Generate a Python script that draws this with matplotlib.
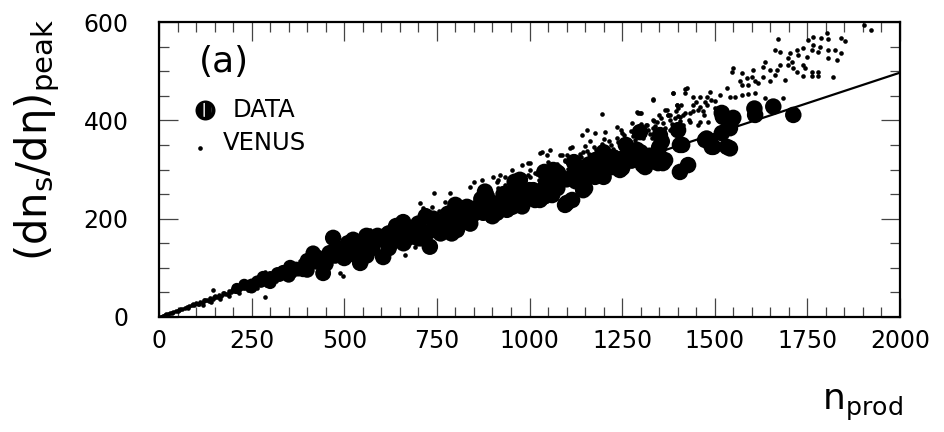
import matplotlib
matplotlib.use("Agg")
import matplotlib.pyplot as plt
from matplotlib.ticker import MultipleLocator

# ---------------- data ----------------
data_xy = [
    (210, 58), (230, 66), (250, 66), (265, 72), (281, 81), (300, 80), (320, 88), (335, 92),
    (354, 102), (370, 98), (389, 96), (400, 115), (416, 130), (426, 122), (443, 110), (443, 89),
    (460, 130), (470, 161), (480, 140), (500, 120), (510, 150), (524, 157), (543, 110), (561, 136),
    (575, 150), (590, 165), (605, 122), (620, 170), (640, 160), (659, 193), (660, 150), (680, 175),
    (700, 190), (710, 160), (731, 143), (740, 200), (760, 185), (780, 210), (790, 170), (804, 177),
    (804, 220), (820, 195), (831, 224), (850, 210), (870, 240), (874, 238), (890, 225), (902, 212),
    (912, 212), (930, 250), (939, 218), (953, 224), (960, 260), (974, 279), (990, 250), (1010, 258),
    (1015, 238), (1028, 252), (1028, 238), (1045, 270), (1061, 248), (1064, 299), (1077, 293),
    (1082, 285), (1096, 228), (1101, 232), (1115, 238), (1117, 285), (1130, 300), (1145, 258),
    (1150, 262), (1160, 310), (1177, 285), (1177, 319), (1205, 303), (1226, 325), (1244, 299),
    (1250, 303), (1270, 330), (1290, 340), (1298, 376), (1306, 309), (1312, 305), (1347, 313),
    (1352, 370), (1357, 357), (1360, 313), (1366, 319), (1401, 380), (1406, 350), (1406, 295),
    (1412, 350), (1428, 309), (1474, 360), (1478, 363), (1487, 356), (1492, 346), (1496, 346),
    (1519, 374), (1519, 415), (1522, 407), (1533, 346), (1541, 343), (1541, 384), (1546, 401),
    (1550, 405), (1607, 424), (1609, 411), (1658, 428), (1712, 411),
    # points hidden inside the solid band
    (250, 60), (275, 72), (300, 70), (325, 85), (350, 84), (375, 97), (400, 95), (425, 112),
    (450, 108), (475, 125), (500, 130), (525, 128), (550, 145), (575, 140), (600, 158), (625, 150),
    (650, 170), (675, 162), (700, 180), (725, 172), (750, 195), (775, 188), (800, 205), (825, 200),
    (850, 220), (875, 212), (900, 232), (925, 226), (950, 245), (975, 238), (1000, 258),
    (1025, 252), (1050, 270), (1075, 262), (1100, 280), (1125, 276), (1150, 292), (1175, 300),
    (1200, 310), (1225, 305), (1250, 322), (1275, 318), (1300, 335), (1325, 328), (1350, 345),
    (560, 125), (620, 140), (700, 160), (760, 170), (840, 190), (900, 205), (980, 225),
    (1040, 245), (1200, 285), (560, 165), (640, 185), (720, 205), (800, 228), (880, 255),
    (960, 275), (1040, 295), (1120, 315), (1200, 335), (1260, 350),
]

venus_xy = [
    # low-multiplicity band
    (5, 1), (12, 3), (18, 6), (25, 6), (30, 9), (38, 10), (45, 13), (50, 12), (58, 16), (62, 17),
    (70, 18), (75, 21), (82, 22), (88, 25), (95, 24), (100, 28), (105, 27), (112, 31), (118, 30),
    (125, 35), (130, 34), (138, 38), (145, 37), (150, 42), (155, 40), (162, 45), (168, 43),
    (175, 49), (180, 46), (188, 52), (195, 50), (200, 56), (205, 53), (212, 59), (218, 57),
    (225, 62), (230, 60), (238, 67), (245, 63), (250, 70), (258, 66), (265, 74), (270, 70),
    (278, 78), (285, 73), (290, 82), (298, 78), (305, 86), (310, 80), (318, 90), (325, 84),
    (330, 93), (338, 88), (345, 97), (350, 91), (358, 101), (365, 95), (372, 105), (380, 98),
    (388, 109), (395, 102), (400, 113),
    (15, 5), (35, 8), (55, 15), (78, 19), (92, 27), (108, 26), (122, 34), (135, 33), (148, 40),
    (160, 41), (172, 48), (185, 47), (198, 54), (208, 52), (222, 61), (235, 58), (248, 68),
    (260, 65), (275, 76), (282, 71), (295, 83), (302, 77), (315, 88), (322, 83), (335, 95),
    (342, 86), (355, 99), (362, 93), (375, 107), (385, 100), (398, 110),
    (120, 24), (140, 31), (165, 36), (190, 42), (215, 49), (240, 55), (265, 60), (290, 66),
    (315, 73), (340, 79), (365, 86), (390, 92),
    # core of the band
    (410, 118), (420, 105), (430, 125), (440, 112), (450, 128), (460, 118), (475, 140), (485, 125),
    (495, 145), (505, 132), (515, 150), (525, 138), (535, 155), (545, 142), (555, 160), (565, 148),
    (575, 165), (585, 152), (595, 170), (605, 158), (615, 175), (625, 162), (635, 180), (645, 168),
    (655, 185), (665, 172), (675, 192), (685, 178), (695, 198), (705, 185), (715, 202), (725, 190),
    (735, 208), (745, 195), (755, 215), (765, 200), (775, 220), (785, 206), (795, 225), (805, 212),
    (815, 230), (825, 218), (835, 236), (845, 222), (855, 242), (865, 228), (875, 248), (885, 235),
    (895, 255), (905, 240), (915, 262), (925, 248), (935, 268), (945, 252), (955, 275), (965, 258),
    (975, 280), (985, 265), (995, 288), (1005, 270), (1015, 292), (1025, 278), (1035, 300),
    (1045, 285), (1055, 305), (1065, 290), (1075, 312), (1085, 296), (1095, 318), (1105, 302),
    (1115, 325), (1125, 308), (1135, 332), (1145, 315), (1155, 338), (1165, 322), (1175, 345),
    (1185, 330), (1195, 352), (1205, 336), (1215, 358), (1225, 342), (1235, 365), (1245, 348),
    (1255, 370), (1265, 355), (1275, 378), (1285, 360), (1295, 385), (1305, 365), (1315, 390),
    (1325, 372), (1335, 398), (1345, 378), (1355, 405), (1365, 385), (1375, 410), (1385, 392),
    (1395, 418), (1405, 398),
    (900, 250), (920, 258), (940, 262), (960, 270), (980, 278), (1000, 285), (1020, 290),
    (1040, 296), (1060, 302), (1080, 308), (1100, 315), (1120, 320), (1140, 326), (1160, 332),
    (1180, 340), (1200, 345), (1220, 350), (1240, 356), (1260, 362), (1280, 368), (1300, 375),
    (1320, 380), (1340, 388), (1360, 395), (1380, 400), (1400, 408), (1420, 415), (1440, 420),
    (1460, 428), (1480, 432), (1500, 440),
    (950, 282), (1000, 300), (1050, 315), (1100, 330), (1150, 348), (1200, 362), (1250, 375),
    (1300, 392), (1350, 410), (1400, 425), (1450, 438), (1500, 425), (1470, 410), (1430, 400),
    (1380, 380), (1330, 365), (1280, 350), (1230, 335), (1180, 322), (1130, 305),
    # scattered points around the band
    (1388, 455), (1334, 443), (1420, 463), (1195, 412), (1289, 416), (1302, 414), (1366, 421),
    (1375, 411), (1406, 407), (1397, 431), (1334, 401), (1276, 394), (1235, 387), (1248, 380),
    (1154, 380), (1177, 374), (1204, 377), (1141, 370), (1163, 357), (1109, 343), (1055, 340),
    (1028, 333), (1082, 330), (1096, 319), (1001, 313), (979, 309), (952, 299), (920, 289),
    (902, 285), (871, 279), (884, 265), (916, 279), (934, 285), (965, 289), (1042, 299), (997, 313),
    (849, 275), (839, 265), (911, 275), (741, 252), (785, 252), (772, 233), (704, 231), (713, 221),
    (736, 224), (700, 201), (569, 177), (583, 173), (606, 180), (623, 177), (889, 197), (691, 143),
    (664, 126), (489, 89), (497, 83), (606, 157), (147, 55), (286, 92), (300, 89), (286, 41),
    (232, 72), (205, 62), (381, 113), (403, 119), (1046, 330), (1087, 330), (1114, 346),
    (1145, 336), (1033, 336), (1293, 414),
    # upper region
    (1903, 593), (1923, 584), (1672, 565), (1752, 563), (1764, 570), (1788, 567), (1804, 577),
    (1807, 565), (1841, 567), (1852, 561), (1739, 548), (1766, 553), (1784, 550), (1763, 543),
    (1663, 543), (1676, 540), (1703, 536), (1721, 543), (1725, 533), (1748, 529), (1780, 540),
    (1807, 543), (1825, 543), (1842, 536), (1807, 527), (1829, 523), (1699, 526), (1708, 519),
    (1676, 513), (1667, 502), (1698, 513), (1712, 506), (1721, 499), (1739, 513), (1744, 506),
    (1762, 499), (1780, 499), (1739, 491), (1762, 491), (1778, 491), (1820, 489), (1636, 519),
    (1631, 509), (1649, 502), (1663, 492), (1690, 482), (1649, 479), (1631, 489), (1604, 502),
    (1600, 489), (1609, 479), (1618, 475), (1586, 486), (1573, 496), (1546, 499), (1550, 506),
    (1568, 479), (1573, 472), (1591, 472), (1532, 465), (1573, 452), (1591, 453), (1609, 455),
    (1636, 445), (1685, 445), (1514, 452), (1541, 448), (1555, 448), (1487, 458), (1478, 448),
    (1491, 441), (1474, 438), (1460, 448), (1442, 448), (1424, 465), (1420, 455), (1388, 455),
    (1334, 441), (1397, 431), (1410, 431), (1442, 431), (1456, 421), (1469, 418), (1433, 414),
    (1415, 411), (1370, 421), (1379, 411), (1393, 404), (1433, 397), (1460, 397), (1483, 397),
    (1505, 404), (1415, 391), (1456, 391), (1343, 397), (1334, 384), (1316, 391), (1298, 414),
]

line_x = [0, 2000]
line_y = [0, 497]

x_ticks = [0, 250, 500, 750, 1000, 1250, 1500, 1750, 2000]
y_ticks = [0, 200, 400, 600]

# ---------------- figure ----------------
plt.rcParams['font.family'] = ['DejaVu Sans']
plt.rcParams['mathtext.fontset'] = 'dejavusans'

fig = plt.figure(figsize=(9.45, 4.32), dpi=100)
ax = fig.add_axes([159 / 945, 1 - 317 / 432, 741 / 945, 295 / 432])

dx = [p[0] for p in data_xy]
dy = [p[1] for p in data_xy]
vx = [p[0] for p in venus_xy]
vy = [p[1] for p in venus_xy]

# marker size of data points grows a little at low multiplicity (style)
dsize = []
for x in dx:
    d_px = min(16.5, 7.0 + x * 0.02)
    dsize.append((d_px * 72 / 100) ** 2)

ax.scatter(vx, vy, s=11, c='black', linewidths=0, zorder=3)
ax.scatter(dx, dy, s=dsize, c='black', linewidths=0, zorder=2)
ax.plot(line_x, line_y, color='black', lw=1.6, zorder=1)

ax.set_xlim(0, 2000)
ax.set_ylim(0, 600)
ax.set_xticks(x_ticks)
ax.set_yticks(y_ticks)
ax.set_xticklabels([str(t) for t in x_ticks])
ax.set_yticklabels([str(t) for t in y_ticks])
ax.xaxis.set_minor_locator(MultipleLocator(50))
ax.yaxis.set_minor_locator(MultipleLocator(50))
ax.tick_params(which='both', direction='in', top=True, right=True, width=0.9, color='#444444')
ax.tick_params(which='major', length=14)
ax.tick_params(which='minor', length=7)
ax.tick_params(axis='x', which='major', labelsize=17, pad=9)
ax.tick_params(axis='y', which='major', labelsize=17, pad=22)
for sp in ax.spines.values():
    sp.set_linewidth(1.6)

# legend drawn by hand
ax.scatter([0.062], [0.702], s=(20 * 0.72) ** 2, c='black', transform=ax.transAxes,
           linewidths=0, zorder=5)
ax.scatter([0.062], [0.702], s=(14 * 0.72) ** 2, facecolor='none', edgecolor='white',
           hatch='||', transform=ax.transAxes, linewidths=0, zorder=6)
ax.text(0.100, 0.702, 'DATA', transform=ax.transAxes, fontsize=17.5, va='center', ha='left')
ax.scatter([0.0553], [0.573], s=11, c='black', transform=ax.transAxes, linewidths=0)
ax.text(0.0864, 0.590, 'VENUS', transform=ax.transAxes, fontsize=17.5, va='center', ha='left')
ax.text(0.0877, 0.864, '(a)', transform=ax.transAxes, fontsize=26, va='center', ha='center')

fig.text(37 / 945, 1 - 140 / 432, r'$\left(\mathrm{dn_s/d\eta}\right)_\mathrm{peak}$',
         rotation=90, ha='center', va='center', fontsize=30)
fig.text(862 / 945, 1 - 405 / 432, r'$\mathrm{n_{prod}}$', ha='center', va='center', fontsize=26)

fig.savefig('out.png', dpi=100)
